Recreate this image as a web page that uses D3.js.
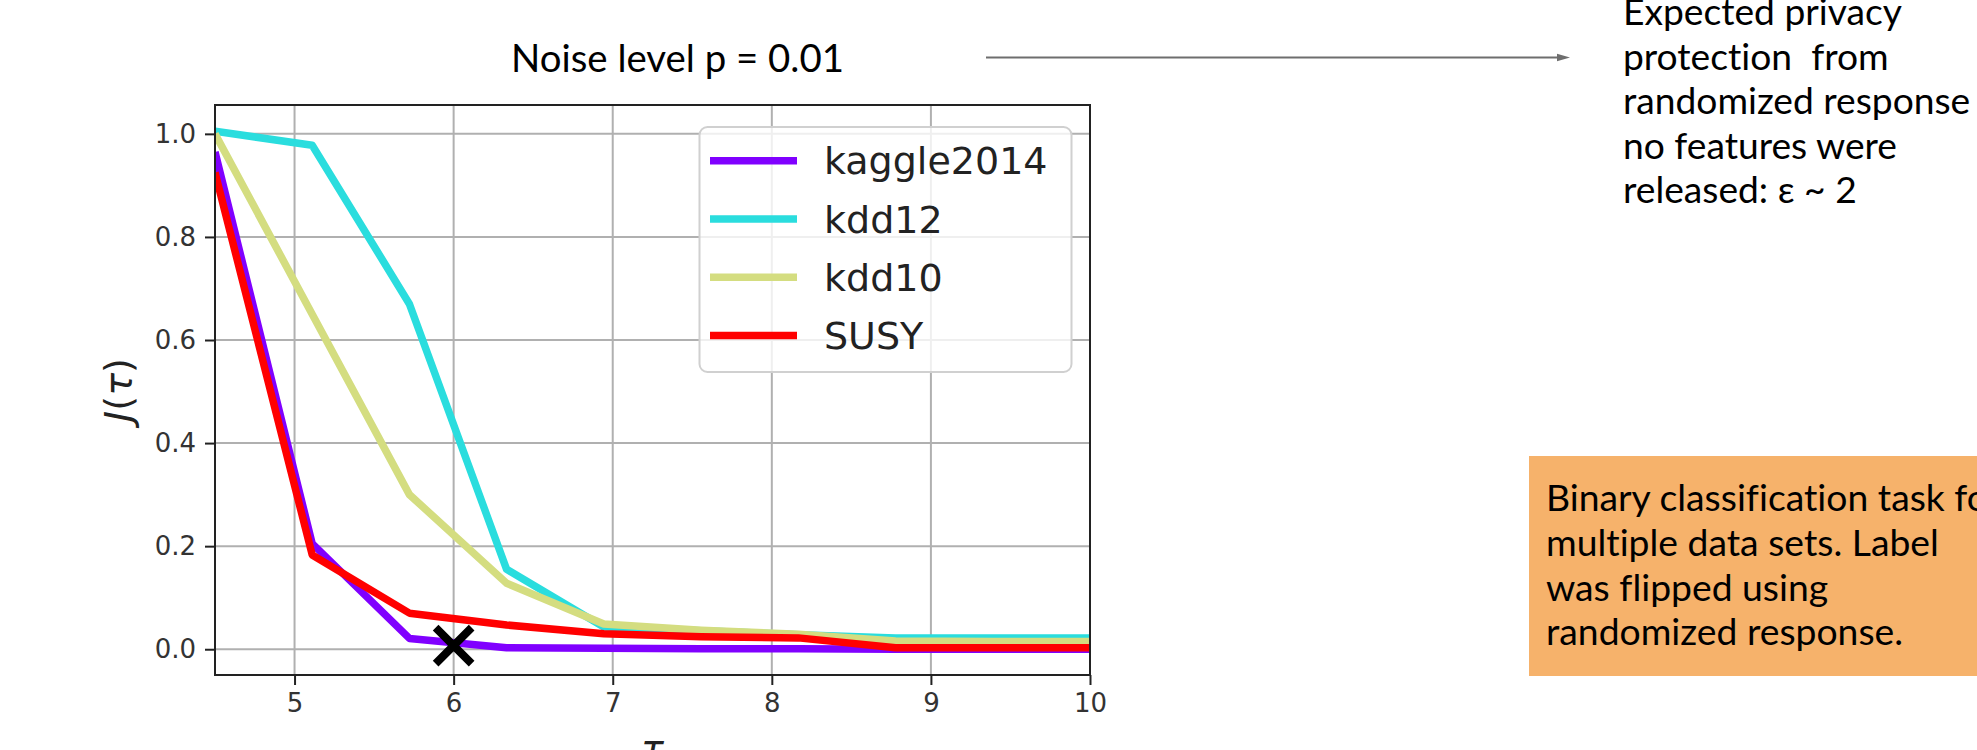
<!DOCTYPE html>
<html>
<head>
<meta charset="utf-8">
<script src="https://cdn.jsdelivr.net/npm/d3@7"></script>
<style>
  html, body { margin: 0; padding: 0; background: #fff; }
  svg { display: block; }
  .ann { font-family: Lato, "Open Sans", sans-serif; fill: #000; white-space: pre; font-variant-ligatures: none; }
</style>
</head>
<body>
<svg id="chart" width="1977" height="750"></svg>
<script>
// ---------- data ----------
const tau = [4.5, 5.111, 5.722, 6.333, 6.944, 7.556, 8.167, 8.778, 9.389, 10.0];
const kaggle2014 = [0.965, 0.205, 0.021, 0.003, 0.002, 0.001, 0.001, 0.0, 0.0, 0.0];
const kdd12 = [1.005, 0.978, 0.670, 0.155, 0.043, 0.036, 0.028, 0.022, 0.022, 0.022];
const kdd10 = [1.0, 0.650, 0.300, 0.128, 0.049, 0.037, 0.029, 0.016, 0.015, 0.015];
const SUSY = [0.925, 0.183, 0.070, 0.047, 0.030, 0.024, 0.022, 0.003, 0.003, 0.003];
const seriesNames = ["kaggle2014", "kdd12", "kdd10", "SUSY"];
const seriesValues = [kaggle2014, kdd12, kdd10, SUSY];
const seriesColors = ["#8000ff", "#2addde", "#d4dd80", "#ff0000"];
const xTicks = [5, 6, 7, 8, 9, 10];
const yTicks = [0.0, 0.2, 0.4, 0.6, 0.8, 1.0];
const marker = { x: 6, y: 0.007 };
const titleText = "Noise level p = 0.01";
const privacyLines = ["Expected privacy", "protection  from", "randomized response", "no features were", "released: \u03b5 ~ 2"];
const boxLines = ["Binary classification task for", "multiple data sets. Label", "was flipped using", "randomized response."];

// ---------- layout ----------
const svg = d3.select("#chart");
const L = 215, R = 1090, T = 105, B = 675;
const x = d3.scaleLinear().domain([4.5, 10]).range([L, R]);
const y = d3.scaleLinear().domain([-0.05, 1.056]).range([B, T]);

// grid
const g = svg.append("g");
g.selectAll("line.gx").data(xTicks).enter().append("line")
  .attr("x1", d => x(d)).attr("x2", d => x(d)).attr("y1", T).attr("y2", B)
  .attr("stroke", "#b0b0b0").attr("stroke-width", 2);
g.selectAll("line.gy").data(yTicks).enter().append("line")
  .attr("y1", d => y(d)).attr("y2", d => y(d)).attr("x1", L).attr("x2", R)
  .attr("stroke", "#b0b0b0").attr("stroke-width", 2);

// lines
svg.append("clipPath").attr("id", "plotclip").append("rect")
  .attr("x", L).attr("y", T).attr("width", R - L).attr("height", B - T);
const lineGen = d3.line().x((d, i) => x(tau[i])).y(d => y(d));
seriesValues.forEach((vals, k) => {
  svg.append("path").datum(vals)
    .attr("d", lineGen)
    .attr("fill", "none")
    .attr("stroke", seriesColors[k])
    .attr("stroke-width", 7.5)
    .attr("stroke-linejoin", "round")
    .attr("stroke-linecap", "butt")
    .attr("clip-path", "url(#plotclip)");
});

// X marker
const mx = x(marker.x), my = y(marker.y), ms = 18;
svg.append("path")
  .attr("d", `M${mx - ms},${my - ms}L${mx + ms},${my + ms}M${mx - ms},${my + ms}L${mx + ms},${my - ms}`)
  .attr("stroke", "#000").attr("stroke-width", 8).attr("fill", "none");

// axes
const xAxis = d3.axisBottom(x).tickValues(xTicks).tickSize(10).tickPadding(9).tickFormat(d3.format("d"));
const yAxis = d3.axisLeft(y).tickValues(yTicks).tickSize(10).tickPadding(9).tickFormat(d3.format(".1f"));
const gx = svg.append("g").attr("transform", `translate(0,${B})`).call(xAxis);
const gy = svg.append("g").attr("transform", `translate(${L},0)`).call(yAxis);
[gx, gy].forEach(a => {
  a.select(".domain").remove();
  a.selectAll(".tick line").attr("stroke", "#222").attr("stroke-width", 2);
  a.selectAll(".tick text").attr("fill", "#333")
    .style("font-family", "'DejaVu Sans', sans-serif").style("font-size", "26px");
});
// spines
svg.append("rect").attr("x", L).attr("y", T).attr("width", R - L).attr("height", B - T)
  .attr("fill", "none").attr("stroke", "#222").attr("stroke-width", 2);

// axis labels
const ylab = svg.append("text")
  .attr("transform", `translate(131,${(T + B) / 2}) rotate(-90)`)
  .attr("text-anchor", "middle")
  .style("font-family", "'DejaVu Sans', sans-serif").style("font-size", "38px").attr("fill", "#222");
ylab.append("tspan").style("font-style", "italic").text("J");
ylab.append("tspan").text("(");
ylab.append("tspan").style("font-style", "italic").text("\u03c4");
ylab.append("tspan").text(")");
svg.append("text").attr("x", (L + R) / 2).attr("y", 761).attr("text-anchor", "middle")
  .style("font-family", "'DejaVu Sans', sans-serif").style("font-size", "38px")
  .style("font-style", "italic").attr("fill", "#222").text("\u03c4");

// legend
const lg = svg.append("g");
lg.append("rect").attr("x", 699.5).attr("y", 127).attr("width", 372).attr("height", 245)
  .attr("rx", 8).attr("fill", "#fff").attr("fill-opacity", 0.8)
  .attr("stroke", "#d0d0d0").attr("stroke-width", 2);
seriesNames.forEach((name, k) => {
  const ly = 160.7 + k * 58.3;
  lg.append("line").attr("x1", 710).attr("x2", 797).attr("y1", ly).attr("y2", ly)
    .attr("stroke", seriesColors[k]).attr("stroke-width", 7.5);
  lg.append("text").attr("x", 824).attr("y", ly).attr("dy", "0.36em")
    .style("font-family", "'DejaVu Sans', sans-serif").style("font-size", "38px")
    .attr("fill", "#222").text(name);
});

// ---------- annotations ----------
function fitSize(textSel, target) {
  textSel.style("font-size", "100px");
  const w = textSel.node().getComputedTextLength();
  return 100 * target / w;
}
const title = svg.append("text").attr("class", "ann").attr("x", 511).attr("y", 71.5).text(titleText);
title.style("font-size", fitSize(title, 333) + "px");

// arrow
svg.append("line").attr("x1", 986).attr("x2", 1558).attr("y1", 57.5).attr("y2", 57.5)
  .attr("stroke", "#6e6e6e").attr("stroke-width", 2);
svg.append("path").attr("d", "M1557,53.8L1570,57.5L1557,61.2Z").attr("fill", "#6e6e6e");

const pSize = (() => {
  const tmp = svg.append("text").attr("class", "ann").text(privacyLines[0]);
  const s = fitSize(tmp, 279); tmp.remove(); return s;
})();
privacyLines.forEach((ln, i) => {
  svg.append("text").attr("class", "ann").attr("x", 1623).attr("y", 25 + i * 44.6)
    .style("font-size", pSize + "px").text(ln);
});

svg.append("rect").attr("x", 1529).attr("y", 456).attr("width", 470).attr("height", 220)
  .attr("fill", "#f6b26b");
const bSize = (() => {
  const tmp = svg.append("text").attr("class", "ann").text(boxLines[1]);
  const s = fitSize(tmp, 393); tmp.remove(); return s;
})();
boxLines.forEach((ln, i) => {
  svg.append("text").attr("class", "ann").attr("x", 1546).attr("y", 511 + i * 44.8)
    .style("font-size", bSize + "px").text(ln);
});
</script>
</body>
</html>
